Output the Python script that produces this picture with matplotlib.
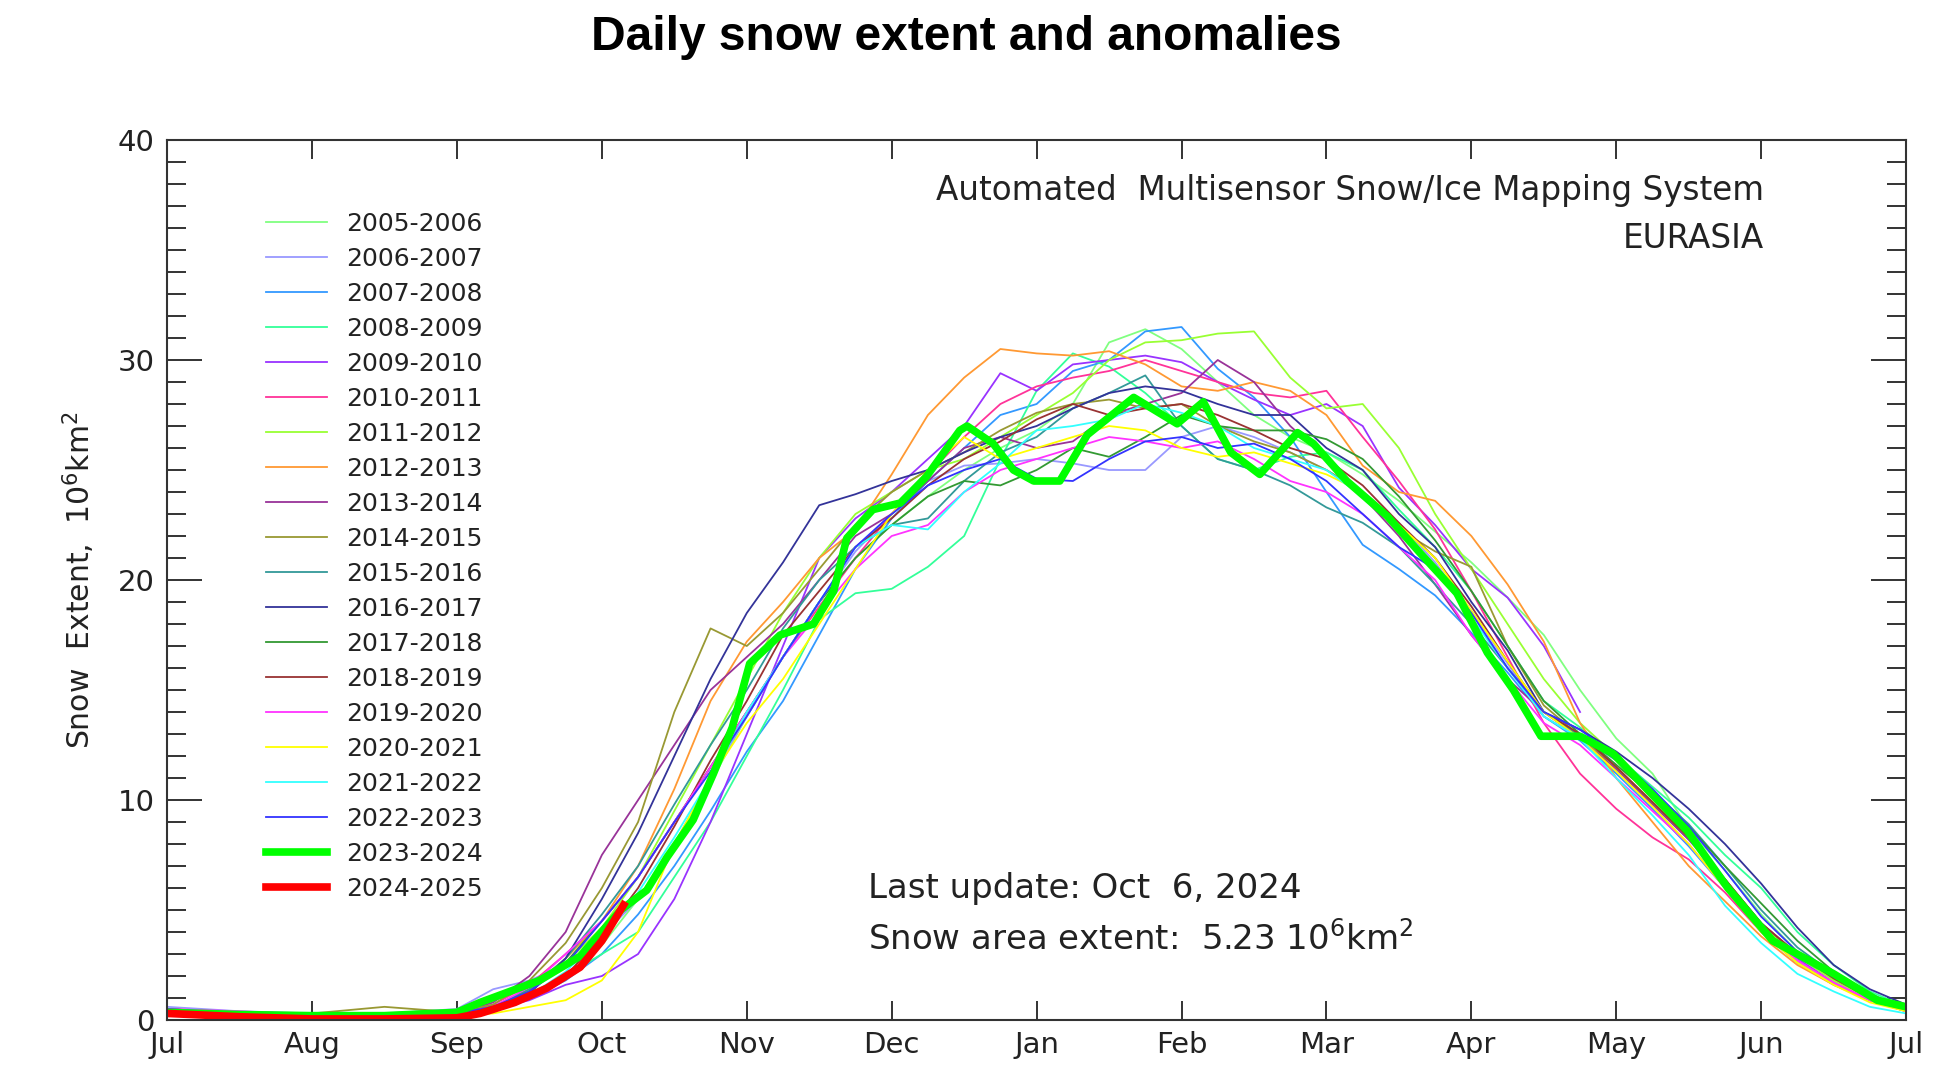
import numpy as np
import matplotlib
matplotlib.use("Agg")
import matplotlib.pyplot as plt
from matplotlib.ticker import MultipleLocator

# x positions in months since 1 July (12 equal month slots on the axis)
month_grid = [0, 0.5, 1, 1.5, 2, 2.25, 2.5, 2.75, 3, 3.25, 3.5, 3.75, 4, 4.25, 4.5,
              4.75, 5, 5.25, 5.5, 5.75, 6, 6.25, 6.5, 6.75, 7, 7.25, 7.5, 7.75, 8,
              8.25, 8.5, 8.75, 9, 9.25, 9.5, 9.75, 10, 10.25, 10.5, 10.75, 11, 11.25,
              11.5, 11.75, 12]
month_labels = ['Jul', 'Aug', 'Sep', 'Oct', 'Nov', 'Dec', 'Jan', 'Feb', 'Mar',
                'Apr', 'May', 'Jun', 'Jul']

# snow extent, 10^6 km^2 at month_grid
s2005 = [0.5, 0.3, 0.2, 0.2, 0.3, 0.6, 1.2, 2.0, 3.4, 5.5, 8.0, 10.8, 13.8, 16.5, 19.0,
         21.0, 22.5, 23.8, 25.0, 26.0, 26.8, 28.0, 30.8, 31.4, 30.5, 29.0, 27.5, 26.5, 25.8,
         24.8, 23.6, 22.2, 20.8, 19.2, 17.5, 15.0, 12.8, 11.2, 8.7, 6.8, 4.8, 3.1, 2.0, 1.1, 0.5]
s2006 = [0.6, 0.4, 0.3, 0.3, 0.5, 1.4, 1.8, 2.5, 3.8, 5.5, 8.0, 11.0, 13.8, 16.5, 19.0,
         21.3, 23.0, 24.5, 25.2, 25.3, 25.5, 25.3, 25.0, 25.0, 26.5, 27.0, 26.5, 25.8, 25.0,
         24.0, 22.6, 20.8, 18.6, 16.2, 13.8, 12.8, 11.4, 9.8, 8.2, 6.3, 4.4, 2.9, 1.8, 1.0, 0.5]
s2007 = [0.4, 0.3, 0.2, 0.2, 0.3, 0.5, 1.0, 1.8, 3.0, 4.8, 7.0, 9.5, 12.2, 14.5, 17.5,
         20.5, 22.8, 24.5, 26.0, 27.5, 28.0, 29.5, 30.0, 31.3, 31.5, 29.6, 28.3, 26.5, 24.0,
         21.6, 20.5, 19.3, 17.6, 15.8, 13.8, 12.7, 11.2, 9.6, 7.9, 6.0, 4.0, 2.6, 1.6, 0.9, 0.4]
s2008 = [0.4, 0.3, 0.2, 0.2, 0.3, 0.5, 1.0, 2.0, 3.0, 4.0, 6.5, 9.0, 12.0, 15.0, 18.2,
         19.4, 19.6, 20.6, 22.0, 25.5, 28.6, 30.3, 29.7, 28.5, 27.0, 25.5, 25.0, 25.6, 25.8,
         25.0, 23.2, 21.5, 19.5, 17.0, 14.5, 13.3, 12.0, 10.6, 9.2, 7.5, 6.0, 4.0, 2.5, 1.3, 0.6]
s2009 = [0.4, 0.3, 0.2, 0.2, 0.3, 0.5, 0.9, 1.6, 2.0, 3.0, 5.5, 9.0, 13.0, 17.0, 21.0,
         22.8, 24.0, 25.5, 27.0, 29.4, 28.6, 29.8, 30.0, 30.2, 29.9, 29.0, 28.2, 27.5, 28.0,
         27.0, 24.2, 22.5, 20.5, 19.2, 17.0, 14.0, np.nan, 10.2, 8.5, 6.2, 4.2, 2.8, 1.7, 0.9, 0.4]
s2010 = [0.5, 0.35, 0.25, 0.25, 0.35, 0.7, 1.6, 3.0, 4.5, 6.5, 9.0, 11.5, 14.0, 16.5, 18.8,
         21.0, 23.0, 24.8, 26.5, 28.0, 28.8, 29.2, 29.5, 30.0, 29.5, 29.0, 28.5, 28.3, 28.6,
         26.5, 24.5, 22.3, 19.5, 16.5, 13.5, 11.2, 9.6, 8.3, 7.3, 5.8, 4.0, 2.7, 1.7, 0.9, 0.4]
s2011 = [0.4, 0.3, 0.2, 0.2, 0.3, 0.6, 1.4, 2.6, 4.2, 6.5, 9.5, 12.5, 15.5, 18.5, 21.0,
         23.0, 24.0, 25.0, 25.5, 26.5, 27.5, 28.5, 30.0, 30.8, 30.9, 31.2, 31.3, 29.2, 27.8,
         28.0, 26.0, 23.0, 20.5, 18.0, 15.5, 13.5, 12.0, 10.3, 8.5, 6.4, 4.3, 2.9, 1.8, 1.0, 0.5]
s2012 = [0.4, 0.3, 0.2, 0.2, 0.3, 0.6, 1.4, 2.8, 4.5, 7.0, 10.5, 14.5, 17.2, 19.0, 21.0,
         22.3, 24.8, 27.5, 29.2, 30.5, 30.3, 30.2, 30.4, 29.8, 28.8, 28.6, 29.0, 28.6, 27.5,
         25.2, 24.0, 23.6, 22.0, 19.8, 17.2, 13.5, 11.0, 9.0, 7.0, 5.4, 3.8, 2.5, 1.6, 0.9, 0.4]
s2013 = [0.5, 0.3, 0.2, 0.2, 0.3, 0.8, 2.0, 4.0, 7.5, 10.0, 12.5, 15.0, 16.5, 18.0, 20.0,
         22.0, 23.0, 24.5, 26.0, 26.5, 26.0, 26.3, 27.5, 28.0, 28.5, 30.0, 29.0, 27.0, 25.5,
         23.8, 22.0, 19.8, 17.5, 15.5, 14.0, 12.8, 11.4, 9.8, 8.2, 6.4, 4.4, 3.0, 1.9, 1.0, 0.5]
s2014 = [0.5, 0.35, 0.3, 0.6, 0.35, 0.7, 1.8, 3.5, 6.0, 9.0, 14.0, 17.8, 17.0, 18.5, 20.5,
         22.5, 24.0, 25.0, 25.8, 26.8, 27.6, 28.0, 28.2, 27.8, 28.0, 27.0, 26.3, 25.8, 25.0,
         24.0, 22.3, 21.3, 20.6, 17.0, 14.3, 12.9, 11.5, 9.9, 8.3, 6.4, 4.4, 3.0, 1.9, 1.0, 0.5]
s2015 = [0.4, 0.3, 0.2, 0.2, 0.3, 0.6, 1.4, 2.8, 4.8, 7.0, 9.8, 12.5, 15.0, 17.8, 20.0,
         21.5, 22.5, 22.8, 24.5, 25.8, 26.5, 27.8, 28.5, 29.3, 27.0, 25.5, 25.0, 24.3, 23.3,
         22.6, 21.5, 19.8, 18.0, 16.0, 14.0, 12.9, 11.8, 10.4, 8.9, 7.0, 5.0, 3.3, 2.1, 1.1, 0.5]
s2016 = [0.4, 0.3, 0.2, 0.2, 0.3, 0.6, 1.2, 2.8, 5.5, 8.5, 12.0, 15.5, 18.5, 20.8, 23.4,
         23.9, 24.5, 25.0, 25.8, 26.5, 27.0, 27.8, 28.5, 28.8, 28.6, 28.0, 27.5, 27.5, 26.0,
         25.0, 23.0, 21.5, 19.0, 16.8, 14.0, 13.2, 12.2, 11.0, 9.6, 8.0, 6.2, 4.2, 2.5, 1.4, 0.7]
s2017 = [0.5, 0.3, 0.2, 0.2, 0.3, 0.6, 1.3, 2.6, 4.5, 6.5, 9.0, 11.5, 14.0, 16.5, 19.0,
         21.0, 22.5, 23.8, 24.5, 24.3, 25.0, 26.0, 25.6, 26.5, 27.5, 27.0, 26.8, 26.8, 26.4,
         25.5, 23.8, 21.8, 19.5, 17.0, 14.5, 13.0, 11.6, 10.2, 8.8, 7.0, 5.3, 3.6, 2.2, 1.2, 0.5]
s2018 = [0.4, 0.3, 0.2, 0.2, 0.3, 0.5, 1.0, 2.0, 3.8, 6.0, 8.8, 11.8, 14.5, 17.5, 19.5,
         21.5, 22.8, 24.3, 25.5, 26.3, 27.3, 28.0, 27.5, 27.8, 28.0, 27.5, 26.8, 26.0, 25.5,
         24.3, 22.6, 21.0, 18.8, 16.3, 14.0, 13.0, 11.5, 9.9, 8.3, 6.4, 4.4, 3.0, 1.9, 1.0, 0.5]
s2019 = [0.5, 0.4, 0.25, 0.2, 0.3, 0.6, 1.5, 3.0, 4.5, 6.5, 9.0, 11.5, 14.0, 16.5, 18.5,
         20.5, 22.0, 22.5, 24.0, 25.0, 25.5, 26.0, 26.5, 26.3, 26.0, 26.3, 25.5, 24.5, 24.0,
         23.0, 21.5, 20.0, 17.5, 15.5, 13.5, 12.5, 11.0, 9.5, 8.0, 6.0, 4.1, 2.7, 1.7, 0.9, 0.4]
s2020 = [0.3, 0.2, 0.15, 0.15, 0.2, 0.3, 0.6, 0.9, 1.8, 4.0, 8.0, 11.0, 13.5, 15.5, 18.0,
         20.5, 23.0, 25.0, 26.5, 25.5, 26.0, 26.5, 27.0, 26.8, 26.0, 25.6, 25.8, 25.3, 24.8,
         24.0, 22.5, 21.0, 18.6, 16.3, 14.0, 12.8, 11.3, 9.7, 8.0, 6.0, 4.0, 2.6, 1.6, 0.8, 0.4]
s2021 = [0.4, 0.3, 0.2, 0.2, 0.3, 0.5, 1.1, 2.2, 3.8, 5.8, 8.3, 11.0, 14.0, 16.5, 19.0,
         21.5, 22.5, 22.3, 24.0, 25.3, 26.8, 27.0, 27.3, 28.0, 27.6, 27.0, 26.0, 25.5, 25.0,
         23.8, 22.3, 20.5, 18.3, 16.0, 13.8, 12.8, 11.0, 9.3, 7.5, 5.2, 3.5, 2.1, 1.3, 0.6, 0.3]
s2022 = [0.5, 0.3, 0.2, 0.2, 0.3, 0.6, 1.3, 2.5, 4.5, 6.5, 9.0, 11.3, 13.8, 16.5, 19.0,
         21.5, 23.0, 24.3, 25.0, 25.5, 24.6, 24.5, 25.5, 26.3, 26.5, 26.0, 26.2, 25.5, 24.5,
         23.0, 21.5, 20.5, 18.5, 16.0, 14.0, 13.2, 12.0, 10.5, 8.8, 6.8, 4.7, 3.1, 2.0, 1.1, 0.6]

# the two highlighted seasons, read at their own months
x2023 = [0, 0.5, 1, 1.5, 2, 2.16, 2.57, 2.85, 3.13, 3.31, 3.45, 3.63, 3.77, 3.9, 4.02,
         4.23, 4.46, 4.6, 4.69, 4.87, 5.06, 5.24, 5.47, 5.52, 5.7, 5.84, 5.98, 6.16, 6.35,
         6.67, 6.97, 7.15, 7.34, 7.54, 7.8, 7.91, 8.14, 8.42, 8.65, 8.9, 9.11, 9.29, 9.48,
         9.75, 9.98, 10.21, 10.49, 10.77, 11.08, 11.5, 11.8, 12]
s2023 = [0.35, 0.25, 0.2, 0.2, 0.35, 0.8, 1.8, 2.9, 5.0, 5.9, 7.4, 9.1, 11.2, 13.3, 16.2,
         17.5, 18.0, 19.5, 21.9, 23.2, 23.5, 24.7, 26.8, 27.0, 26.2, 25.0, 24.5, 24.5, 26.6,
         28.3, 27.1, 28.1, 25.8, 24.8, 26.7, 26.2, 24.5, 22.9, 21.2, 19.4, 16.7, 15.0, 12.9,
         12.9, 12.1, 10.5, 8.6, 6.0, 3.6, 2.1, 0.9, 0.6]
x2024 = [0, 0.5, 1, 1.5, 2, 2.16, 2.4, 2.62, 2.85, 3.0, 3.15]
s2024 = [0.3, 0.15, 0.05, 0.05, 0.1, 0.3, 0.8, 1.45, 2.4, 3.6, 5.23]

season_labels = ['2005-2006', '2006-2007', '2007-2008', '2008-2009', '2009-2010',
                 '2010-2011', '2011-2012', '2012-2013', '2013-2014', '2014-2015',
                 '2015-2016', '2016-2017', '2017-2018', '2018-2019', '2019-2020',
                 '2020-2021', '2021-2022', '2022-2023', '2023-2024', '2024-2025']
season_colors = ['#80ff80', '#9999ff', '#3399ff', '#33ff99', '#9933ff', '#ff3399',
                 '#99ff33', '#ff9933', '#993399', '#999933', '#339999', '#333399',
                 '#339933', '#993333', '#ff33ff', '#ffff00', '#33ffff', '#3333ff',
                 '#00ff00', '#ff0000']

thin_series = [s2005, s2006, s2007, s2008, s2009, s2010, s2011, s2012, s2013, s2014,
               s2015, s2016, s2017, s2018, s2019, s2020, s2021, s2022]

plt.rcParams['font.family'] = ['DejaVu Sans']
text_color = '#222222'
axis_color = '#333333'

fig = plt.figure(figsize=(19.52, 10.92), dpi=100)
ax = fig.add_axes([0.0856, 0.0659, 0.8909, 0.8059])

for vals, lab, col in zip(thin_series, season_labels[:18], season_colors[:18]):
    ax.plot(month_grid, vals, color=col, lw=1.3, label=lab)
ax.plot(x2023, s2023, color=season_colors[18], lw=5.5, label=season_labels[18],
        solid_joinstyle='round')
ax.plot(x2024, s2024, color=season_colors[19], lw=5.5, label=season_labels[19],
        solid_joinstyle='round')

ax.set_xlim(0, 12)
ax.set_ylim(0, 40)
ax.set_xticks(range(13))
ax.set_xticklabels(month_labels)
ax.yaxis.set_major_locator(MultipleLocator(10))
ax.yaxis.set_minor_locator(MultipleLocator(1))

ax.tick_params(axis='x', which='major', direction='in', top=True, bottom=True,
               length=13.5, width=1.4, color=axis_color, labelsize=21, pad=8,
               labelcolor=text_color)
ax.tick_params(axis='y', which='major', direction='in', left=True, right=True,
               length=25, width=1.4, color=axis_color, labelsize=21, pad=9,
               labelcolor=text_color)
ax.tick_params(axis='y', which='minor', direction='in', left=True, right=True,
               length=13.5, width=1.4, color=axis_color)
for sp in ax.spines.values():
    sp.set_color(axis_color)
    sp.set_linewidth(1.5)

ax.set_ylabel('Snow  Extent,  10$^6$km$^2$', fontsize=21.5, color=text_color, labelpad=15)

ax.text(0.918, 0.943, 'Automated  Multisensor Snow/Ice Mapping System', transform=ax.transAxes,
        ha='right', va='center', fontsize=23.5, color=text_color)
ax.text(0.918, 0.8875, 'EURASIA', transform=ax.transAxes,
        ha='right', va='center', fontsize=23.5, color=text_color)
ax.text(0.403, 0.149, 'Last update: Oct  6, 2024', transform=ax.transAxes,
        ha='left', va='center', fontsize=24.5, color=text_color)
ax.text(0.403, 0.092, 'Snow area extent:  5.23 10$^6$km$^2$', transform=ax.transAxes,
        ha='left', va='center', fontsize=24.5, color=text_color)

ax.legend(loc='upper left', bbox_to_anchor=(0.0569, 0.9185), frameon=False, fontsize=18,
          handlelength=2.44, handletextpad=0.76, labelspacing=0.44, borderpad=0,
          borderaxespad=0, labelcolor=text_color)

fig.text(0.495, 0.966, 'Daily snow extent and anomalies', ha='center', va='center',
         fontsize=34.5, fontweight='bold', family='Liberation Sans', color='black')

fig.savefig('out.png', dpi=100, facecolor='white')
